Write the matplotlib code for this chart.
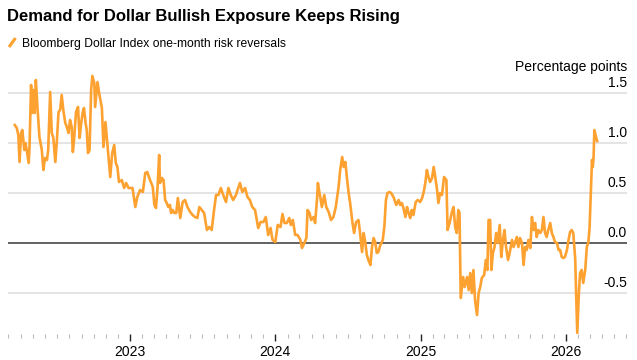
import pandas as pd
import matplotlib
matplotlib.use("Agg")
import matplotlib.pyplot as plt
import matplotlib.dates as mdates
from matplotlib.lines import Line2D
from matplotlib.transforms import blended_transform_factory

plt.rcParams['font.family'] = ['Liberation Sans', 'DejaVu Sans']

# one-month risk reversals (percentage points)
dates_2022 = ["2022-03-17", "2022-03-22", "2022-03-26", "2022-03-29", "2022-04-02", "2022-04-05", "2022-04-10",
              "2022-04-13", "2022-04-16", "2022-04-21", "2022-04-23", "2022-04-27", "2022-04-30", "2022-05-03",
              "2022-05-06", "2022-05-09", "2022-05-13", "2022-05-18", "2022-05-24", "2022-05-28", "2022-06-01",
              "2022-06-06", "2022-06-09", "2022-06-14", "2022-06-18", "2022-06-22", "2022-06-27", "2022-07-01",
              "2022-07-05", "2022-07-09", "2022-07-13", "2022-07-17", "2022-07-22", "2022-07-26", "2022-07-30",
              "2022-08-03", "2022-08-07", "2022-08-10", "2022-08-13", "2022-08-18", "2022-08-23", "2022-08-27",
              "2022-08-31", "2022-09-04", "2022-09-07", "2022-09-11", "2022-09-14", "2022-09-17", "2022-09-21",
              "2022-09-25", "2022-09-28", "2022-10-03", "2022-10-05", "2022-10-11", "2022-10-15", "2022-10-22",
              "2022-10-26", "2022-10-31", "2022-11-05", "2022-11-12", "2022-11-17", "2022-11-22", "2022-11-26",
              "2022-11-30", "2022-12-04", "2022-12-11", "2022-12-17", "2022-12-22", "2022-12-28"]
vals_2022 = [1.18, 1.15, 1.08, 0.81, 1.10, 1.13, 0.93, 1.00, 0.93, 0.80, 0.95, 1.58, 1.30, 1.53, 1.30, 1.63, 1.36,
             1.06, 0.93, 0.73, 0.85, 0.83, 0.93, 1.51, 1.10, 1.05, 0.81, 1.03, 1.31, 1.33, 1.48, 1.33, 1.20, 1.16,
             1.10, 1.23, 1.16, 0.91, 1.03, 1.31, 1.36, 1.05, 1.20, 1.31, 1.35, 1.20, 1.13, 0.90, 0.93, 1.53, 1.67,
             1.60, 1.36, 1.61, 1.50, 1.35, 0.96, 1.21, 0.98, 0.66, 0.90, 0.98, 0.80, 0.76, 0.61, 0.63, 0.55, 0.60,
             0.55]

dates_2023 = ["2023-01-07", "2023-01-14", "2023-01-19", "2023-01-26", "2023-02-02", "2023-02-08", "2023-02-13",
              "2023-02-20", "2023-02-27", "2023-03-03", "2023-03-07", "2023-03-11", "2023-03-15", "2023-03-17",
              "2023-03-22", "2023-03-26", "2023-03-30", "2023-04-03", "2023-04-07", "2023-04-11", "2023-04-14",
              "2023-04-18", "2023-04-22", "2023-04-27", "2023-05-01", "2023-05-07", "2023-05-13", "2023-05-19",
              "2023-05-25", "2023-06-01", "2023-06-07", "2023-06-13", "2023-06-19", "2023-06-24", "2023-06-30",
              "2023-07-06", "2023-07-13", "2023-07-19", "2023-07-25", "2023-07-31", "2023-08-05", "2023-08-11",
              "2023-08-17", "2023-08-23", "2023-08-30", "2023-09-05", "2023-09-11", "2023-09-17", "2023-09-24",
              "2023-09-30", "2023-10-04", "2023-10-10", "2023-10-17", "2023-10-23", "2023-10-29", "2023-11-04",
              "2023-11-11", "2023-11-19", "2023-11-25", "2023-12-02", "2023-12-08", "2023-12-14", "2023-12-20",
              "2023-12-25"]
vals_2023 = [0.55, 0.36, 0.46, 0.53, 0.51, 0.70, 0.71, 0.63, 0.56, 0.38, 0.35, 0.56, 0.88, 0.60, 0.65, 0.63, 0.43,
             0.40, 0.36, 0.38, 0.30, 0.33, 0.30, 0.30, 0.45, 0.25, 0.41, 0.43, 0.36, 0.31, 0.28, 0.26, 0.25, 0.36,
             0.33, 0.30, 0.13, 0.16, 0.13, 0.33, 0.48, 0.48, 0.55, 0.48, 0.41, 0.55, 0.48, 0.43, 0.48, 0.55, 0.60,
             0.51, 0.55, 0.46, 0.43, 0.36, 0.33, 0.15, 0.21, 0.21, 0.26, 0.08, 0.15, 0.03]

dates_2024 = ["2024-01-01", "2024-01-07", "2024-01-14", "2024-01-19", "2024-01-24", "2024-01-30", "2024-02-05",
              "2024-02-09", "2024-02-14", "2024-02-20", "2024-02-26", "2024-03-04", "2024-03-08", "2024-03-14",
              "2024-03-19", "2024-03-22", "2024-03-27", "2024-03-31", "2024-04-06", "2024-04-10", "2024-04-15",
              "2024-04-17", "2024-04-21", "2024-04-23", "2024-04-27", "2024-05-03", "2024-05-08", "2024-05-14",
              "2024-05-20", "2024-05-26", "2024-06-01", "2024-06-08", "2024-06-12", "2024-06-17", "2024-06-21",
              "2024-06-25", "2024-06-29", "2024-07-03", "2024-07-07", "2024-07-13", "2024-07-17", "2024-07-22",
              "2024-07-28", "2024-08-01", "2024-08-06", "2024-08-10", "2024-08-14", "2024-08-18", "2024-08-22",
              "2024-08-27", "2024-08-31", "2024-09-04", "2024-09-08", "2024-09-12", "2024-09-16", "2024-09-21",
              "2024-09-27", "2024-10-01", "2024-10-05", "2024-10-09", "2024-10-14", "2024-10-18", "2024-10-24",
              "2024-10-31", "2024-11-06", "2024-11-10", "2024-11-14", "2024-11-18", "2024-11-23", "2024-11-27",
              "2024-12-01", "2024-12-05", "2024-12-09", "2024-12-13", "2024-12-19", "2024-12-24", "2024-12-30"]
vals_2024 = [0.01, 0.18, 0.16, 0.29, 0.20, 0.20, 0.25, 0.18, 0.23, 0.08, 0.08, 0.03, -0.05, 0.00, 0.05, 0.33, 0.30,
             0.23, 0.26, 0.20, 0.45, 0.60, 0.50, 0.46, 0.36, 0.48, 0.36, 0.31, 0.23, 0.26, 0.36, 0.56, 0.73, 0.86,
             0.76, 0.81, 0.65, 0.51, 0.40, 0.20, 0.10, 0.21, 0.23, 0.10, -0.09, 0.10, 0.01, -0.12, -0.17, -0.22,
             -0.04, 0.05, 0.01, -0.10, -0.09, -0.02, 0.03, 0.16, 0.43, 0.50, 0.51, 0.50, 0.46, 0.38, 0.43, 0.38,
             0.40, 0.35, 0.26, 0.36, 0.30, 0.25, 0.33, 0.28, 0.41, 0.43, 0.41]

dates_2025 = ["2025-01-04", "2025-01-08", "2025-01-12", "2025-01-16", "2025-01-20", "2025-01-24", "2025-01-29",
              "2025-02-02", "2025-02-06", "2025-02-10", "2025-02-14", "2025-02-18", "2025-02-23", "2025-02-28",
              "2025-03-06", "2025-03-09", "2025-03-14", "2025-03-20", "2025-03-24", "2025-03-28", "2025-04-01",
              "2025-04-05", "2025-04-08", "2025-04-11", "2025-04-17", "2025-04-21", "2025-04-27", "2025-05-01",
              "2025-05-05", "2025-05-09", "2025-05-13", "2025-05-17", "2025-05-22", "2025-05-26", "2025-05-30",
              "2025-06-03", "2025-06-09", "2025-06-13", "2025-06-17", "2025-06-20", "2025-06-24", "2025-06-27",
              "2025-07-01", "2025-07-05", "2025-07-09", "2025-07-13", "2025-07-18", "2025-07-22", "2025-07-26",
              "2025-07-30", "2025-08-03", "2025-08-08", "2025-08-12", "2025-08-18", "2025-08-22", "2025-08-26",
              "2025-08-30", "2025-09-03", "2025-09-07", "2025-09-12", "2025-09-16", "2025-09-20", "2025-09-24",
              "2025-09-28", "2025-10-03", "2025-10-07", "2025-10-11", "2025-10-15", "2025-10-19", "2025-10-23",
              "2025-10-28", "2025-11-01", "2025-11-05", "2025-11-09", "2025-11-13", "2025-11-17", "2025-11-22",
              "2025-11-26", "2025-11-30", "2025-12-04", "2025-12-09", "2025-12-13", "2025-12-17", "2025-12-21",
              "2025-12-25", "2025-12-29"]
vals_2025 = [0.45, 0.51, 0.60, 0.73, 0.66, 0.61, 0.65, 0.76, 0.66, 0.55, 0.40, 0.50, 0.48, 0.66, 0.63, 0.13, 0.20,
             0.31, 0.36, 0.16, 0.10, 0.33, 0.30, -0.55, -0.34, -0.44, -0.34, -0.47, -0.30, -0.50, -0.27, -0.57,
             -0.72, -0.50, -0.44, -0.35, -0.32, -0.17, -0.27, 0.23, 0.23, -0.27, -0.10, -0.04, 0.10, 0.00, 0.18,
             -0.14, 0.03, 0.13, -0.04, -0.17, -0.10, 0.03, -0.04, 0.01, 0.06, -0.04, 0.05, 0.00, -0.22, -0.04,
             -0.07, 0.03, -0.05, 0.26, 0.13, 0.20, 0.06, 0.13, 0.10, 0.13, 0.26, 0.10, 0.06, 0.13, 0.20, 0.10,
             0.06, 0.01, 0.00, -0.07, -0.07, -0.14, -0.15, -0.14]

dates_2026 = ["2026-01-03", "2026-01-07", "2026-01-11", "2026-01-15", "2026-01-19", "2026-01-24", "2026-01-26",
              "2026-01-29", "2026-02-02", "2026-02-05", "2026-02-09", "2026-02-13", "2026-02-18", "2026-02-22",
              "2026-02-26", "2026-03-01", "2026-03-04", "2026-03-07", "2026-03-09", "2026-03-11", "2026-03-13",
              "2026-03-17", "2026-03-19", "2026-03-20"]
vals_2026 = [-0.07, 0.03, 0.11, 0.13, 0.10, -0.17, -0.50, -0.90, -0.50, -0.30, -0.27, -0.40, -0.27, -0.04, 0.01,
             0.16, 0.50, 0.83, 0.76, 0.86, 1.13, 1.06, 1.03, 1.02]

ytick_vals = [1.5, 1.0, 0.5, 0.0, -0.5]
ytick_labels = ["1.5", "1.0", "0.5", "0.0", "-0.5"]

dates = pd.to_datetime(dates_2022 + dates_2023 + dates_2024 + dates_2025 + dates_2026)
values = vals_2022 + vals_2023 + vals_2024 + vals_2025 + vals_2026

orange = '#FDA130'

fig = plt.figure(figsize=(6.37, 3.6), dpi=100)
ax = fig.add_axes([8 / 637, 1 - 334 / 360, 619 / 637, 263 / 360])

for v in ytick_vals:
    if v == 0:
        ax.axhline(v, color='#555555', lw=1.3, zorder=2)
    else:
        ax.axhline(v, color='#e2e2e2', lw=1.3, zorder=1)

ax.plot(dates, values, color=orange, lw=1.9, zorder=3, solid_joinstyle='round')

ax.set_ylim(-0.91, 1.72)
ax.set_xlim(pd.Timestamp("2022-02-28"), pd.Timestamp("2026-06-03"))

for s in ax.spines.values():
    s.set_visible(False)
ax.set_yticks([])

ax.xaxis.set_major_locator(mdates.YearLocator())
ax.xaxis.set_major_formatter(mdates.DateFormatter('%Y'))
ax.xaxis.set_minor_locator(mdates.MonthLocator())
ax.tick_params(axis='x', which='major', length=5, width=1, color='#222222', labelsize=10, pad=3)
ax.tick_params(axis='x', which='minor', length=3, width=0.8, color='#bbbbbb')

trans = blended_transform_factory(ax.transAxes, ax.transData)
for v, lab in zip(ytick_vals, ytick_labels):
    ax.annotate(lab, xy=(1.0, v), xycoords=trans, xytext=(0, 4.5), textcoords='offset points',
                ha='right', va='baseline', fontsize=10, color='black')

fig.text(627 / 637, 1 - 71 / 360, "Percentage points", ha='right', va='baseline', fontsize=10)

fig.text(7 / 637, 1 - 21.5 / 360, "Demand for Dollar Bullish Exposure Keeps Rising",
         ha='left', va='baseline', fontsize=12, fontweight='bold')
fig.add_artist(Line2D([9 / 637, 15.5 / 637], [1 - 47 / 360, 1 - 38 / 360], color=orange, lw=2.2,
                      solid_capstyle='butt', transform=fig.transFigure))
fig.text(22 / 637, 1 - 46.5 / 360, "Bloomberg Dollar Index one-month risk reversals",
         ha='left', va='baseline', fontsize=8.7)

fig.savefig('out.png', dpi=100)
